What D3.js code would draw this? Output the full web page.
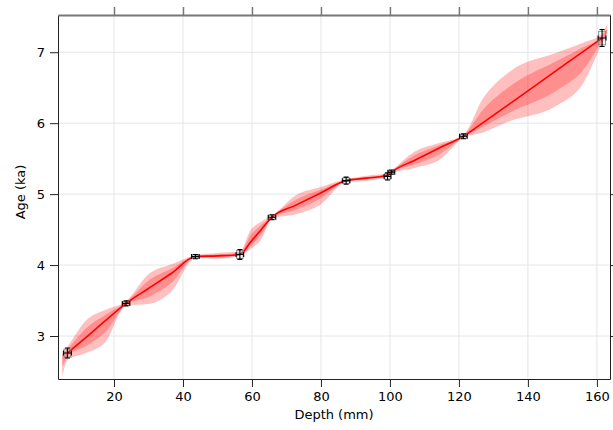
<!DOCTYPE html>
<html>
<head>
<meta charset="utf-8">
<script src="https://cdn.jsdelivr.net/npm/d3@7"></script>
<style>
  body { margin: 0; background: #fff; }
  text { font-family: "DejaVu Sans", sans-serif; }
</style>
</head>
<body>
<svg id="chart" width="613" height="430"></svg>
<script>
// dated samples (depth mm, age ka) with 2-sigma errors
const dateDepth = [6.5, 23.5, 43.6, 56.5, 65.8, 87.3, 99.3, 100.4, 121.3, 161.5];
const dateAge = [2.76, 3.46, 4.12, 4.15, 4.675, 5.19, 5.25, 5.31, 5.815, 7.2];
const dateDepthErr = [1.15, 1.1, 1.1, 1.1, 1.1, 1.1, 1.0, 1.0, 1.1, 1.15];
const dateAgeErr = [0.07, 0.035, 0.03, 0.07, 0.035, 0.05, 0.05, 0.03, 0.035, 0.12];

// age model: median and confidence envelopes
const modelDepth = [5.0, 6.5, 11.9, 17.6, 23.5, 30, 36.7, 43.6, 50, 56.5, 59.6, 62.6, 65.8, 72.75, 79.9, 87.3, 93.3, 99.3, 100.4, 107.2, 114.3, 121.3, 127, 134.8, 148, 156, 161.5, 163];
const modelMedian = [2.70, 2.76, 2.98, 3.22, 3.46, 3.67, 3.885, 4.12, 4.13, 4.15, 4.325, 4.495, 4.675, 4.845, 5.016, 5.19, 5.225, 5.265, 5.31, 5.478, 5.65, 5.815, 6.007, 6.277, 6.733, 7.01, 7.20, 7.27];
const lower95 = [2.42, 2.66, 2.76, 2.92, 3.43, 3.45, 3.63, 4.10, 4.09, 4.13, 4.23, 4.355, 4.655, 4.715, 4.855, 5.17, 5.19, 5.24, 5.29, 5.37, 5.48, 5.795, 5.87, 6.03, 6.24, 6.56, 7.12, 7.26];
const lower68 = [2.56, 2.71, 2.86, 3.06, 3.445, 3.55, 3.75, 4.11, 4.11, 4.14, 4.27, 4.43, 4.665, 4.78, 4.94, 5.18, 5.21, 5.25, 5.30, 5.42, 5.56, 5.805, 5.95, 6.15, 6.45, 6.75, 7.16, 7.27];
const upper68 = [2.73, 2.81, 3.11, 3.30, 3.475, 3.78, 3.95, 4.13, 4.15, 4.17, 4.42, 4.56, 4.685, 4.92, 5.06, 5.20, 5.24, 5.28, 5.32, 5.55, 5.69, 5.825, 6.19, 6.52, 6.87, 7.07, 7.23, 7.33];
const upper95 = [2.75, 2.85, 3.22, 3.37, 3.49, 3.87, 4.01, 4.14, 4.17, 4.19, 4.49, 4.61, 4.695, 4.985, 5.10, 5.21, 5.26, 5.29, 5.33, 5.60, 5.72, 5.835, 6.35, 6.73, 6.99, 7.135, 7.26, 7.40];

const xTicks = [20, 40, 60, 80, 100, 120, 140, 160];
const yTicks = [3, 4, 5, 6, 7];

const svg = d3.select("#chart");
const width = +svg.attr("width");
const height = +svg.attr("height");
const margin = { top: 15, left: 58, right: 3, bottom: 51 };
const innerWidth = width - margin.left - margin.right;
const innerHeight = height - margin.top - margin.bottom;

const xScale = d3.scaleLinear().domain([3.77, 163.8]).range([0, innerWidth]);
const yScale = d3.scaleLinear().domain([2.394, 7.525]).range([innerHeight, 0]);

const chart = svg.append("g").attr("transform", `translate(${margin.left},${margin.top})`);

// gridlines
chart.append("g").selectAll("line").data(xTicks).join("line")
  .attr("x1", d => xScale(d)).attr("x2", d => xScale(d))
  .attr("y1", 0).attr("y2", innerHeight)
  .attr("stroke", "#e4e4ee").attr("stroke-width", 1);
chart.append("g").selectAll("line").data(yTicks).join("line")
  .attr("y1", d => yScale(d)).attr("y2", d => yScale(d))
  .attr("x1", 0).attr("x2", innerWidth)
  .attr("stroke", "#e4e4ee").attr("stroke-width", 1);

const model = modelDepth.map((d, i) => ({
  d, med: modelMedian[i], lo95: lower95[i], lo68: lower68[i], hi68: upper68[i], hi95: upper95[i]
}));

const band = (lo, hi) => d3.area()
  .curve(d3.curveMonotoneX)
  .x(p => xScale(p.d))
  .y0(p => yScale(p[lo]))
  .y1(p => yScale(p[hi]));

const plotArea = chart.append("g");
plotArea.append("path").datum(model).attr("d", band("lo95", "hi95"))
  .attr("fill", "#ff0000").attr("fill-opacity", 0.25);
plotArea.append("path").datum(model).attr("d", band("lo68", "hi68"))
  .attr("fill", "#ff0000").attr("fill-opacity", 0.25);

// median line from first to last date
plotArea.append("path")
  .datum(model.filter(p => p.d >= 6.5 && p.d <= 161.5))
  .attr("d", d3.line().curve(d3.curveMonotoneX).x(p => xScale(p.d)).y(p => yScale(p.med)))
  .attr("fill", "none").attr("stroke", "#ff0000").attr("stroke-width", 1.6);

// dates: grey box + black cross with caps
const dates = dateDepth.map((d, i) => ({ d, a: dateAge[i], de: dateDepthErr[i], ae: dateAgeErr[i] }));
const pts = chart.append("g").selectAll("g").data(dates).join("g");
pts.append("rect")
  .attr("x", p => xScale(p.d - p.de * 0.85))
  .attr("y", p => yScale(p.a + p.ae * 0.8))
  .attr("width", p => xScale(p.d + p.de * 0.85) - xScale(p.d - p.de * 0.85))
  .attr("height", p => yScale(p.a - p.ae * 0.8) - yScale(p.a + p.ae * 0.8))
  .attr("fill", "none").attr("stroke", "#8a8a8a").attr("stroke-width", 1);
pts.append("path")
  .attr("d", p => {
    const cx = xScale(p.d), cy = yScale(p.a);
    const x0 = xScale(p.d - p.de), x1 = xScale(p.d + p.de);
    const y0 = yScale(p.a + p.ae), y1 = yScale(p.a - p.ae);
    const c = 2.5;
    return `M${x0},${cy}H${x1}M${cx},${y0}V${y1}` +
      `M${cx - c},${y0}H${cx + c}M${cx - c},${y1}H${cx + c}` +
      `M${x0},${cy - c}V${cy + c}M${x1},${cy - c}V${cy + c}`;
  })
  .attr("fill", "none").attr("stroke", "#000").attr("stroke-width", 1.1);

// axes
const styleAxis = (g, color) => {
  g.selectAll("text").attr("font-size", 13).attr("fill", "#000");
  g.select(".domain").attr("stroke", color);
  g.selectAll(".tick line").attr("stroke", color);
};

chart.append("g")
  .attr("transform", `translate(0,${innerHeight})`)
  .call(d3.axisBottom(xScale).tickValues(xTicks).tickSize(8).tickSizeOuter(0).tickPadding(5))
  .call(g => styleAxis(g, "#222"));

chart.append("g")
  .call(d3.axisLeft(yScale).tickValues(yTicks).tickFormat(d3.format("d")).tickSize(8).tickSizeOuter(0).tickPadding(5))
  .call(g => styleAxis(g, "#222"));

chart.append("g")
  .call(d3.axisTop(xScale).tickValues(xTicks).tickSize(8).tickSizeOuter(0).tickFormat(""))
  .call(g => styleAxis(g, "#777"))
  .call(g => g.select(".domain").attr("stroke-width", 2))
  .call(g => g.selectAll(".tick line").attr("stroke-width", 1.5));

chart.append("g")
  .attr("transform", `translate(${innerWidth},0)`)
  .call(d3.axisRight(yScale).tickValues(yTicks).tickSize(8).tickSizeOuter(0).tickFormat(""))
  .call(g => styleAxis(g, "#222"));

// axis titles
chart.append("text")
  .attr("x", innerWidth / 2).attr("y", innerHeight + 40)
  .attr("text-anchor", "middle").attr("font-size", 13)
  .text("Depth (mm)");

chart.append("text")
  .attr("transform", "rotate(-90)")
  .attr("x", -(innerHeight / 2) + 5).attr("y", -33)
  .attr("text-anchor", "middle").attr("font-size", 13)
  .text("Age (ka)");
</script>
</body>
</html>
